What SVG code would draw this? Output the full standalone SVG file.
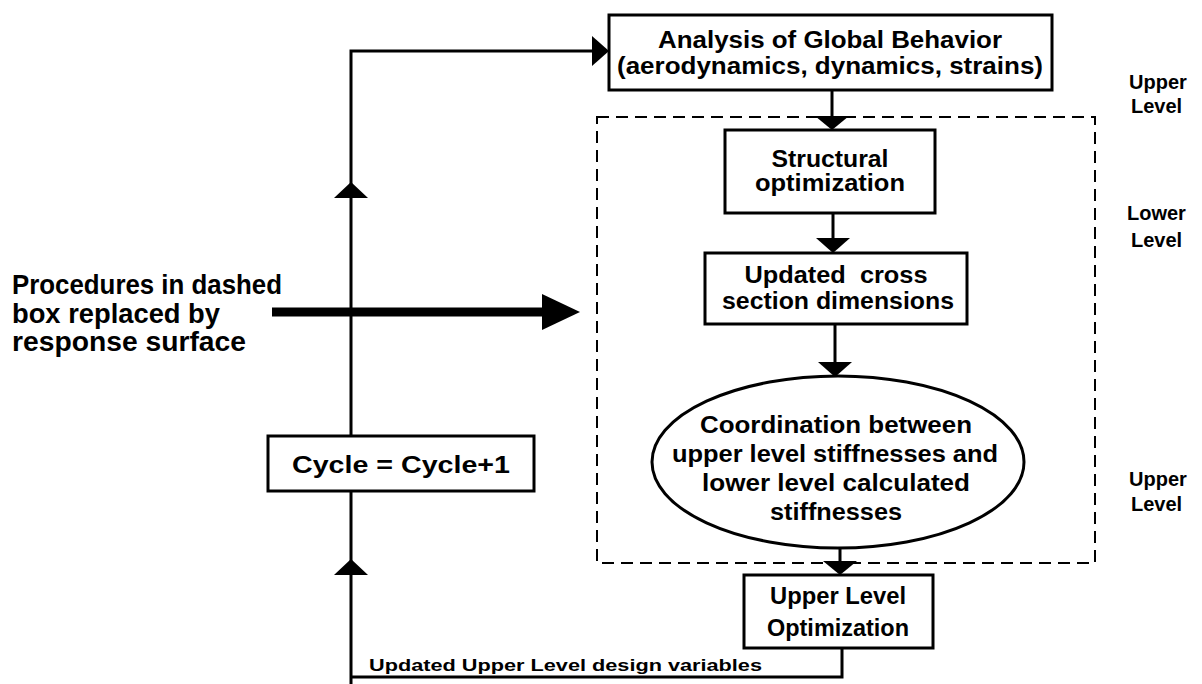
<svg xmlns="http://www.w3.org/2000/svg" width="1202" height="684" viewBox="0 0 1202 684">
<defs>
<style>
.box{fill:#fff;stroke:#000;stroke-width:3}
.ln{fill:none;stroke:#000;stroke-width:3}
.dash{fill:none;stroke:#000;stroke-width:2;stroke-dasharray:12 7}
.t{font-family:"Liberation Sans",Arial,sans-serif;font-weight:bold;font-size:23px;fill:#000;text-anchor:middle}
.lbl{font-family:"Liberation Sans",Arial,sans-serif;font-weight:bold;font-size:20px;fill:#000;text-anchor:start}
.big{font-family:"Liberation Sans",Arial,sans-serif;font-weight:bold;font-size:28px;fill:#000;text-anchor:start}
.sm{font-family:"Liberation Sans",Arial,sans-serif;font-weight:bold;font-size:17px;fill:#000;text-anchor:start}
.head{fill:#000;stroke:none}
</style>
</defs>
<rect width="1202" height="684" fill="#fff"/>
<rect id="dashed-region" class="dash" x="597" y="117" width="498" height="446"/>
<g id="connectors">
<polyline class="ln" points="351,684 351,51 596,51"/>
<polygon class="head" points="609,51 592,36 592,66"/>
<polygon class="head" points="351,182 334,198 368,198"/>
<polygon class="head" points="351,559 334,575 368,575"/>
<line class="ln" x1="832" y1="90" x2="832" y2="120"/>
<polygon class="head" points="832,130 815,116 849,116"/>
<line class="ln" x1="833" y1="213" x2="833" y2="242"/>
<polygon class="head" points="833,253 816,238 850,238"/>
<line class="ln" x1="835" y1="324" x2="835" y2="366"/>
<polygon class="head" points="835,377 818,362 852,362"/>
<line class="ln" x1="840" y1="548" x2="840" y2="565"/>
<polygon class="head" points="840,575 823,561 857,561"/>
<polyline class="ln" points="842,648 842,677 351,677"/>
<line x1="272" y1="312" x2="545" y2="312" stroke="#000" stroke-width="9"/>
<polygon class="head" points="580,312 542,294 542,330"/>
</g>
<g id="analysis">
<rect class="box" x="609" y="15" width="443" height="75"/>
<text class="t" x="830" y="48" textLength="344" lengthAdjust="spacingAndGlyphs">Analysis of Global Behavior</text>
<text class="t" x="830" y="74" textLength="426" lengthAdjust="spacingAndGlyphs">(aerodynamics, dynamics, strains)</text>
</g>
<g id="structural">
<rect class="box" x="725" y="130" width="210" height="83"/>
<text class="t" x="830" y="167" textLength="117" lengthAdjust="spacingAndGlyphs">Structural</text>
<text class="t" x="830" y="191" textLength="150" lengthAdjust="spacingAndGlyphs">optimization</text>
</g>
<g id="updated">
<rect class="box" x="705" y="253" width="262" height="71"/>
<text class="t" x="836" y="283" textLength="183" lengthAdjust="spacingAndGlyphs" xml:space="preserve">Updated  cross</text>
<text class="t" x="838" y="309" textLength="232" lengthAdjust="spacingAndGlyphs">section dimensions</text>
</g>
<g id="coordination">
<ellipse class="box" cx="838" cy="462" rx="186" ry="86"/>
<text class="t" x="836" y="433" textLength="272" lengthAdjust="spacingAndGlyphs">Coordination between</text>
<text class="t" x="835" y="462" textLength="326" lengthAdjust="spacingAndGlyphs">upper level stiffnesses and</text>
<text class="t" x="836" y="491" textLength="268" lengthAdjust="spacingAndGlyphs">lower level calculated</text>
<text class="t" x="836" y="520" textLength="132" lengthAdjust="spacingAndGlyphs">stiffnesses</text>
</g>
<g id="upper-opt">
<rect class="box" x="744" y="575" width="189" height="73"/>
<text class="t" x="838" y="604" textLength="136" lengthAdjust="spacingAndGlyphs">Upper Level</text>
<text class="t" x="838" y="636" textLength="142" lengthAdjust="spacingAndGlyphs">Optimization</text>
</g>
<g id="cycle">
<rect class="box" x="268" y="436" width="266" height="55"/>
<text class="t" x="401" y="473" textLength="218" lengthAdjust="spacingAndGlyphs">Cycle = Cycle+1</text>
</g>
<g id="note">
<text class="big" x="12" y="294" textLength="270" lengthAdjust="spacingAndGlyphs">Procedures in dashed</text>
<text class="big" x="12" y="323" textLength="208" lengthAdjust="spacingAndGlyphs">box replaced by</text>
<text class="big" x="12" y="351" textLength="234" lengthAdjust="spacingAndGlyphs">response surface</text>
</g>
<g id="labels">
<text class="lbl" x="1129" y="89">Upper</text>
<text class="lbl" x="1131" y="113">Level</text>
<text class="lbl" x="1127" y="220">Lower</text>
<text class="lbl" x="1131" y="247">Level</text>
<text class="lbl" x="1129" y="486">Upper</text>
<text class="lbl" x="1131" y="511">Level</text>
</g>
<text id="loop-label" class="sm" x="369" y="671" textLength="393" lengthAdjust="spacingAndGlyphs">Updated Upper Level design variables</text>
</svg>
